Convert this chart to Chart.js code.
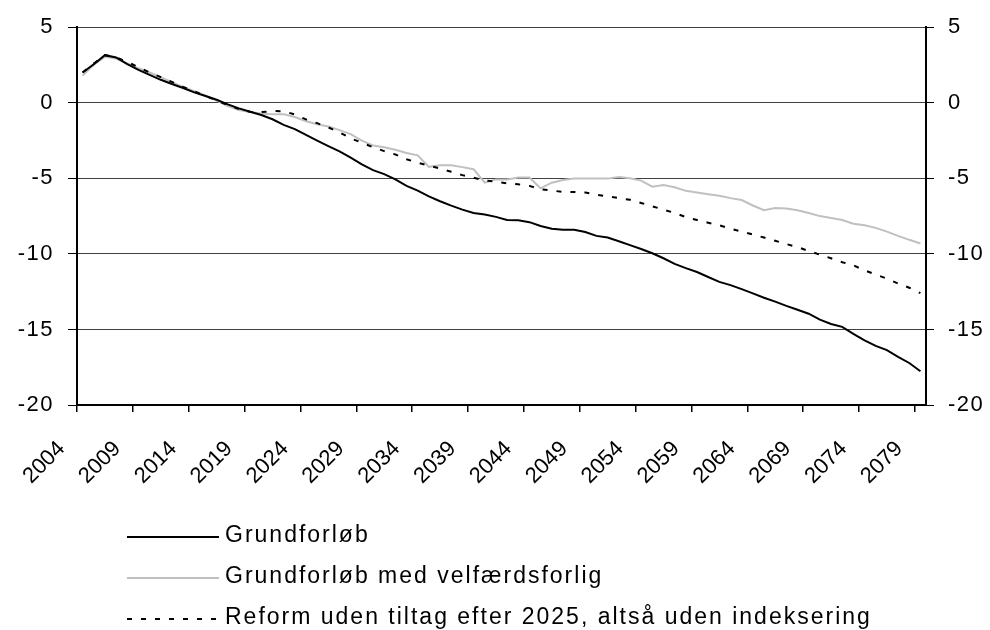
<!DOCTYPE html>
<html>
<head>
<meta charset="utf-8">
<script src="https://cdn.jsdelivr.net/npm/chart.js@4"></script>
<style>
  html, body { margin: 0; padding: 0; background: #fff; }
  #wrap { width: 990px; height: 630px; }
</style>
</head>
<body>
<div id="wrap"><canvas id="myChart" width="990" height="630"></canvas></div>
<script>
const years = [
  2004, 2005, 2006, 2007, 2008, 2009, 2010, 2011, 2012, 2013,
  2014, 2015, 2016, 2017, 2018, 2019, 2020, 2021, 2022, 2023,
  2024, 2025, 2026, 2027, 2028, 2029, 2030, 2031, 2032, 2033,
  2034, 2035, 2036, 2037, 2038, 2039, 2040, 2041, 2042, 2043,
  2044, 2045, 2046, 2047, 2048, 2049, 2050, 2051, 2052, 2053,
  2054, 2055, 2056, 2057, 2058, 2059, 2060, 2061, 2062, 2063,
  2064, 2065, 2066, 2067, 2068, 2069, 2070, 2071, 2072, 2073,
  2074, 2075, 2076, 2077, 2078, 2079
];

// Grundforløb
const grundforlob = [
  2.0, 2.55, 3.15, 3.0, 2.55, 2.17, 1.85, 1.52, 1.24, 0.98,
  0.69, 0.45, 0.2, -0.11, -0.37, -0.59, -0.81, -1.09, -1.46, -1.74,
  -2.13, -2.5, -2.87, -3.22, -3.63, -4.07, -4.46, -4.72, -5.07, -5.5,
  -5.81, -6.2, -6.52, -6.81, -7.07, -7.29, -7.4, -7.55, -7.76, -7.78,
  -7.9, -8.15, -8.33, -8.41, -8.41, -8.55, -8.81, -8.92, -9.16, -9.42,
  -9.68, -9.96, -10.29, -10.66, -10.94, -11.2, -11.53, -11.85, -12.07, -12.33,
  -12.61, -12.9, -13.16, -13.44, -13.7, -13.96, -14.35, -14.64, -14.83, -15.29,
  -15.72, -16.09, -16.37, -16.81, -17.22, -17.77
];

// Grundforløb med velfærdsforlig
const velfaerdsforlig = [
  1.8, 2.5, 3.05, 2.93, 2.6, 2.28, 2.0, 1.7, 1.37, 1.04,
  0.76, 0.48, 0.15, -0.22, -0.48, -0.61, -0.72, -0.76, -0.76, -0.94,
  -1.22, -1.42, -1.57, -1.81, -2.07, -2.5, -2.83, -2.94, -3.11, -3.33,
  -3.48, -4.24, -4.13, -4.13, -4.26, -4.4, -5.29, -5.07, -5.07, -4.94,
  -4.94, -5.66, -5.29, -5.11, -5.02, -5.02, -5.02, -5.02, -4.92, -5.0,
  -5.15, -5.55, -5.44, -5.59, -5.83, -5.94, -6.05, -6.16, -6.31, -6.44,
  -6.8, -7.11, -6.96, -7.0, -7.11, -7.29, -7.5, -7.63, -7.76, -8.0,
  -8.11, -8.28, -8.53, -8.81, -9.07, -9.31
];

// Reform uden tiltag efter 2025
const reformUdenTiltag = [
  2.0, 2.6, 3.15, 3.0, 2.7, 2.35, 2.0, 1.7, 1.38, 1.05,
  0.75, 0.45, 0.15, -0.15, -0.42, -0.6, -0.62, -0.55, -0.56, -0.78,
  -1.1, -1.35, -1.63, -1.96, -2.35, -2.65, -2.94, -3.2, -3.42, -3.74,
  -3.96, -4.17, -4.35, -4.57, -4.79, -4.96, -5.15, -5.22, -5.33, -5.4,
  -5.5, -5.72, -5.81, -5.9, -5.9, -5.94, -6.09, -6.2, -6.31, -6.42,
  -6.63, -6.85, -7.07, -7.29, -7.57, -7.76, -7.94, -8.11, -8.33, -8.52,
  -8.72, -8.92, -9.13, -9.35, -9.55, -9.81, -10.05, -10.29, -10.55, -10.76,
  -11.09, -11.37, -11.64, -11.96, -12.24, -12.6
];

const yMin = -20;
const yMax = 5;
const yStep = 5;
const labelEvery = 5;

const FONT = '"Liberation Sans", Arial, sans-serif';

// spaced-out value labels on the y axes; year labels (drawn after the
// lines, ticks.z = 1) go back to normal spacing
const spacedText = {
  id: 'spacedText',
  beforeUpdate(chart) { chart.ctx.letterSpacing = '1.5px'; },
  beforeDraw(chart) { chart.ctx.letterSpacing = '1.5px'; },
  afterDatasetsDraw(chart) { chart.ctx.letterSpacing = '0px'; }
};

// stacked legend under the axis, one row per series
const stackedLegend = {
  id: 'stackedLegend',
  afterDraw(chart) {
    const ctx = chart.ctx;
    ctx.save();
    ctx.font = '23px ' + FONT;
    ctx.letterSpacing = '2px';
    ctx.textBaseline = 'middle';
    ctx.textAlign = 'left';
    ctx.fillStyle = '#000';
    chart.data.datasets.forEach((ds, i) => {
      const y = 537 + i * 41;
      ctx.beginPath();
      ctx.strokeStyle = ds.borderColor;
      ctx.lineWidth = ds.borderWidth;
      ctx.setLineDash(ds.borderDash || []);
      ctx.moveTo(127, y);
      ctx.lineTo(219, y);
      ctx.stroke();
      ctx.setLineDash([]);
      ctx.fillText(ds.label, 225, y - 1);
    });
    ctx.restore();
  }
};

new Chart(document.getElementById('myChart'), {
  type: 'line',
  data: {
    labels: years,
    datasets: [
      {
        label: 'Grundforløb',
        data: grundforlob,
        borderColor: '#000000',
        borderWidth: 2,
        order: 1
      },
      {
        label: 'Grundforløb med velfærdsforlig',
        data: velfaerdsforlig,
        borderColor: '#c0c0c0',
        borderWidth: 2,
        order: 2
      },
      {
        label: 'Reform uden tiltag efter 2025, altså uden indeksering',
        data: reformUdenTiltag,
        borderColor: '#000000',
        borderWidth: 2,
        borderDash: [5, 9],
        order: 0
      }
    ]
  },
  options: {
    responsive: false,
    animation: false,
    events: [],
    elements: {
      point: { radius: 0 },
      line: { tension: 0, fill: false }
    },
    layout: { padding: { top: 22, left: 0, right: 0, bottom: 0 } },
    plugins: {
      legend: { display: false },
      tooltip: { enabled: false }
    },
    scales: {
      x: {
        type: 'category',
        offset: true,
        afterFit(scale) { scale.height = 225; },
        border: { color: '#000', width: 2 },
        grid: {
          offset: true,
          drawOnChartArea: false,
          tickLength: 7,
          lineWidth: 1.5,
          color: (c) => (c.index % labelEvery === 0 ? '#000' : 'rgba(0,0,0,0)')
        },
        ticks: {
          z: 1,
          autoSkip: false,
          minRotation: 45,
          maxRotation: 45,
          padding: 24,
          labelOffset: -21,
          color: '#000',
          font: { family: FONT, size: 22 },
          callback(value, index) {
            return index % labelEvery === 0 ? this.getLabelForValue(value) : '';
          }
        }
      },
      y: {
        position: 'left',
        min: yMin,
        max: yMax,
        afterFit(scale) { scale.width = 77; },
        border: { color: '#000', width: 2 },
        grid: {
          color: '#404040',
          lineWidth: 1,
          tickLength: 9,
          tickColor: '#000'
        },
        ticks: {
          stepSize: yStep,
          padding: 14,
          color: '#000',
          font: { family: FONT, size: 22 }
        }
      },
      y1: {
        position: 'right',
        min: yMin,
        max: yMax,
        afterFit(scale) { scale.width = 64; },
        border: { color: '#000', width: 2 },
        grid: {
          drawOnChartArea: false,
          tickLength: 8,
          tickColor: '#000'
        },
        ticks: {
          stepSize: yStep,
          padding: 14,
          color: '#000',
          font: { family: FONT, size: 22 }
        }
      }
    }
  },
  plugins: [spacedText, stackedLegend]
});
</script>
</body>
</html>
